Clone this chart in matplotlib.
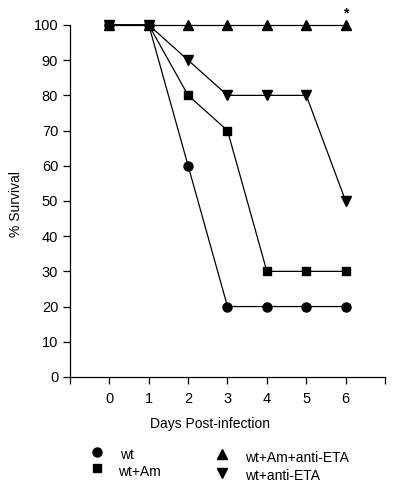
import matplotlib
matplotlib.use("Agg")
import matplotlib.pyplot as plt
from matplotlib.lines import Line2D

plt.rcParams['font.family'] = ['Liberation Sans', 'DejaVu Sans']

days = [0, 1, 2, 3, 4, 5, 6]
wt = [100, 100, 60, 20, 20, 20, 20]
wt_am = [100, 100, 80, 70, 30, 30, 30]
wt_am_anti = [100, 100, 100, 100, 100, 100, 100]
wt_anti = [100, 100, 90, 80, 80, 80, 50]
yticks = list(range(0, 101, 10))
xticks = list(range(-1, 8))
xticklabels = [''] + [str(d) for d in days] + ['']

fig = plt.figure(figsize=(4.0, 4.87), dpi=100)
ax = fig.add_axes([0.175, 0.226, 0.7875, 0.7227])

kw = dict(color='black', lw=0.9, clip_on=False, zorder=3)
ax.plot(days, wt_am_anti, marker='^', ms=7, **kw)
ax.plot(days, wt_anti, marker='v', ms=7, **kw)
ax.plot(days, wt_am, marker='s', ms=6, **kw)
ax.plot(days, wt, marker='o', ms=6.5, **kw)

ax.text(6, 101.3, '*', ha='center', va='bottom', fontsize=10, fontweight='bold')

ax.set_xlim(-1, 7)
ax.set_ylim(0, 100)
ax.set_xticks(xticks)
ax.set_xticklabels(xticklabels)
ax.set_yticks(yticks)
for s in ['top', 'right']:
    ax.spines[s].set_visible(False)
for s in ['left', 'bottom']:
    ax.spines[s].set_linewidth(0.9)
ax.tick_params(axis='both', direction='out', length=5, width=0.9, labelsize=10.5)
ax.tick_params(axis='x', pad=6)
ax.set_xlabel('Days Post-infection', fontsize=10)
ax.xaxis.set_label_coords(0.445, -0.115)
ax.set_ylabel('% Survival', fontsize=10)
ax.yaxis.set_label_coords(-0.15, 0.49)

# legend
def legend_item(x, y, marker, ms, label, tx, ty):
    fig.add_artist(Line2D([x], [y], marker=marker, color='black', ms=ms,
                          linestyle='none', transform=fig.transFigure))
    fig.text(tx, ty, label, fontsize=10, va='center', ha='left')

legend_item(97/400, 1 - 452/487, 'o', 6.5, 'wt', 120/400, 1 - 455/487)
legend_item(97/400, 1 - 468/487, 's', 6, 'wt+Am', 118/400, 1 - 472/487)
legend_item(222/400, 1 - 454/487, '^', 7, 'wt+Am+anti-ETA', 245/400, 1 - 458/487)
legend_item(222/400, 1 - 473/487, 'v', 7, 'wt+anti-ETA', 245/400, 1 - 476/487)

fig.savefig('out.png', dpi=100)
